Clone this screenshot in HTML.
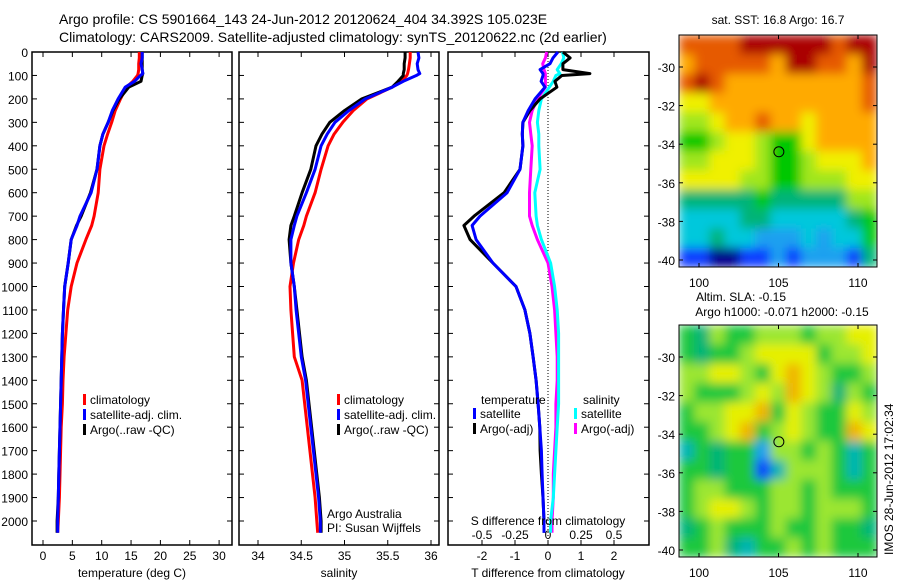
<!DOCTYPE html>
<html><head><meta charset="utf-8"><style>
body{margin:0;background:#fff}
svg{display:block;font-family:"Liberation Sans",sans-serif}
text{fill:#000}
</style></head><body>
<svg id="fig" width="900" height="580" viewBox="0 0 900 580">
<defs>
<filter id="soft" x="0" y="0" width="1" height="1"><feGaussianBlur stdDeviation="5" edgeMode="duplicate"/></filter>
<clipPath id="clip1"><rect x="679" y="35" width="198" height="232"/></clipPath>
<clipPath id="clip2"><rect x="679" y="325" width="198" height="232"/></clipPath>
</defs>
<rect width="900" height="580" fill="#fff"/>
<text x="59" y="24" font-size="14">Argo profile: CS 5901664_143 24-Jun-2012 20120624_404 34.392S 105.023E</text>
<text x="59" y="42" font-size="14">Climatology: CARS2009. Satellite-adjusted climatology: synTS_20120622.nc (2d earlier)</text>
<g id="g"></g>
</svg>
<script>
// ---- data ----
const depths=[0,25,50,75,92,100,125,150,200,250,300,350,400,500,600,700,740,800,900,1000,1100,1200,1300,1400,1500,1600,1700,1800,1900,2000,2050];
const tempClim=[16.4,16.4,16.3,16.3,16.2,16.1,15.3,14.2,13.2,12.3,11.7,11.0,10.4,9.7,9.4,8.7,8.3,7.3,5.8,4.8,4.2,3.9,3.6,3.4,3.3,3.1,3.0,2.9,2.8,2.6,2.5];
const tempSat=[16.9,16.9,16.7,16.9,17.0,16.6,15.6,14.0,12.8,11.8,11.1,10.2,9.7,9.2,8.2,6.3,5.8,4.8,4.3,3.7,3.5,3.3,3.2,3.1,3.0,2.9,2.8,2.7,2.6,2.5,2.5];
const tempArgo=[16.9,16.9,16.9,16.9,17.0,16.9,16.7,14.6,13.0,11.9,11.1,10.2,9.7,9.2,8.1,6.5,5.7,4.8,4.3,3.7,3.5,3.3,3.2,3.1,3.0,2.9,2.8,2.7,2.6,2.4,2.4];
const salClim=[35.76,35.76,35.75,35.74,35.73,35.72,35.66,35.55,35.26,35.10,34.98,34.88,34.81,34.73,34.66,34.56,34.53,34.47,34.41,34.37,34.38,34.40,34.42,34.51,34.54,34.57,34.60,34.63,34.66,34.68,34.69];
const salSat=[35.85,35.86,35.84,35.85,35.87,35.83,35.68,35.55,35.24,35.05,34.89,34.80,34.73,34.66,34.56,34.45,34.42,34.38,34.38,34.42,34.44,34.47,34.50,34.55,34.58,34.61,34.64,34.67,34.70,34.72,34.72];
const salArgo=[35.70,35.70,35.69,35.69,35.68,35.68,35.62,35.55,35.20,35.00,34.83,34.74,34.67,34.61,34.51,34.42,34.38,34.36,34.38,34.42,34.45,34.48,34.51,34.56,34.59,34.62,34.65,34.68,34.71,34.73,34.73];
const dTArgo=[0.45,0.67,0.45,0.45,1.27,0.42,0.21,0.27,-0.24,-0.55,-0.76,-0.78,-0.76,-0.85,-1.33,-2.24,-2.55,-2.36,-1.67,-0.97,-0.70,-0.55,-0.45,-0.36,-0.30,-0.25,-0.24,-0.20,-0.15,-0.12,-0.12];
const dTSat=[0.30,0.15,0.06,-0.24,-0.15,-0.15,-0.21,-0.09,-0.39,-0.60,-0.76,-0.78,-0.76,-0.85,-1.24,-2.06,-2.30,-2.18,-1.67,-0.97,-0.70,-0.55,-0.45,-0.36,-0.30,-0.25,-0.20,-0.18,-0.15,-0.12,-0.12];
const dSArgo=[-0.01,-0.02,-0.04,-0.03,-0.02,-0.02,-0.02,-0.02,-0.08,-0.12,-0.14,-0.13,-0.12,-0.13,-0.14,-0.14,-0.12,-0.08,0.00,0.03,0.05,0.06,0.07,0.07,0.06,0.06,0.05,0.04,0.04,0.03,0.03];
const dSSat=[0.11,0.12,0.10,0.07,0.09,0.06,0.04,0.01,-0.05,-0.07,-0.08,-0.07,-0.07,-0.06,-0.10,-0.09,-0.08,-0.05,0.02,0.05,0.07,0.08,0.08,0.08,0.08,0.07,0.06,0.05,0.04,0.02,0.02];
const depthTicks=[0,100,200,300,400,500,600,700,800,900,1000,1100,1200,1300,1400,1500,1600,1700,1800,1900,2000];
const tempTicks=[0,5,10,15,20,25,30];
const salTicks=[34,34.5,35,35.5,36];
const dTTicks=[-2,-1,0,1,2];
const dSTicks=[-0.5,-0.25,0,0.25,0.5];
const sstRows=["9999AAAAAA9AA","8999998AA998A","9A98888888889","7788888888889","6678898878888","5567765578888","6677765567778","7777665566677","4444454444466","3333443333345","3343322232335","1100112122214"];
const slaRows=["4354455545566","4344566664556","5566546765445","5444565765354","4556674654465","4456745654476","2434415545424","4434402555424","4554445545444","4566545545554","3454445445443","4453244545444"];
const latTicks=[-30,-32,-34,-36,-38,-40];
const lonTicks=[100,105,110];

// ---- helpers ----
const NS="http://www.w3.org/2000/svg";const G=document.getElementById('g');
function mk(t,a,p){const e=document.createElementNS(NS,t);for(const k in a)e.setAttribute(k,a[k]);(p||G).appendChild(e);return e;}
function txt(x,y,s,anchor,size,name){const e=mk('text',{x:x,y:y,'font-size':size||12,'text-anchor':anchor||'start'});e.textContent=s;


return e;}
const yD=d=>52+0.2345*d;
function panel(x0,x1,name){const r=mk('rect',{x:x0,y:52,width:x1-x0,height:493,fill:'none',stroke:'#000','stroke-width':1.5});


depthTicks.forEach(d=>{const y=yD(d);mk('line',{x1:x0,x2:x0+5,y1:y,y2:y,stroke:'#000'});mk('line',{x1:x1-5,x2:x1,y1:y,y2:y,stroke:'#000'});});}
function xticks(x0,ticks,fx,labels,ly,name){ticks.forEach(t=>{const x=fx(t);mk('line',{x1:x,x2:x,y1:52,y2:57,stroke:'#000'});mk('line',{x1:x,x2:x,y1:540,y2:545,stroke:'#000'});if(labels)txt(x,ly,String(t),'middle',12,name);});}
function line(xs,ys,fx,col,name){const pts=xs.map((v,i)=>fx(v).toFixed(1)+','+yD(ys[i]).toFixed(1)).join(' ');const p=mk('polyline',{points:pts,fill:'none',stroke:col,'stroke-width':3,'stroke-linejoin':'round'});

}
function legend(x,y,items,pref){items.forEach((it,i)=>{mk('rect',{x:x,y:y+i*15-10,width:3,height:11,fill:it[1]});txt(x+7,y+i*15,it[0],'start',12,pref+'-legend-entry');});}

// panel 1 temperature
const fT=t=>43+5.87*t;
panel(32,232,'temperature-panel');
depthTicks.forEach(d=>txt(28,yD(d)+5,String(d),'end',12,'depth-tick-label'));
xticks(32,tempTicks,fT,true,560,'temperature-tick-label');
line(tempClim,depths,fT,'#f00','temp-climatology-line');
line(tempArgo,depths,fT,'#000','temp-argo-line');
line(tempSat,depths,fT,'#00f','temp-satellite-line');
legend(83,404,[['climatology','#f00'],['satellite-adj. clim.','#00f'],['Argo(..raw -QC)','#000']],'temp');
txt(132,577,'temperature (deg C)','middle',12,'x-axis-title-temperature');

// panel 2 salinity
const fS=s=>258+86.5*(s-34);
panel(239,439,'salinity-panel');
xticks(239,salTicks,fS,true,560,'salinity-tick-label');
line(salClim,depths,fS,'#f00','sal-climatology-line');
line(salArgo,depths,fS,'#000','sal-argo-line');
line(salSat,depths,fS,'#00f','sal-satellite-line');
legend(337,404,[['climatology','#f00'],['satellite-adj. clim.','#00f'],['Argo(..raw -QC)','#000']],'sal');
txt(327,518,'Argo Australia','start',12,'argo-australia-label');
txt(327,532,'PI: Susan Wijffels','start',12,'pi-label');
txt(339,577,'salinity','middle',12,'x-axis-title-salinity');

// panel 3 differences
const fdT=t=>548+33*t, fdS=s=>548+132*s;
panel(448,649,'difference-panel');
mk('line',{x1:548,x2:548,y1:52,y2:545,stroke:'#000','stroke-dasharray':'1,2'});
xticks(448,dTTicks,fdT,true,560,'t-diff-tick-label');
dSTicks.forEach(t=>txt(fdS(t),539,String(t),'middle',12,'s-diff-tick-label'));
line(dSArgo,depths,fdS,'#f0f','s-diff-argo-line');
line(dSSat,depths,fdS,'#0ff','s-diff-satellite-line');
line(dTArgo,depths,fdT,'#000','t-diff-argo-line');
line(dTSat,depths,fdT,'#00f','t-diff-satellite-line');
txt(481,404,'temperature','start',12,'temperature-legend-title');
legend(473,418,[['satellite','#00f'],['Argo(-adj)','#000']],'tdiff');
txt(583,404,'salinity','start',12,'salinity-legend-title');
legend(574,418,[['satellite','#0ff'],['Argo(-adj)','#f0f']],'sdiff');
txt(548,525,'S difference from climatology','middle',12,'s-diff-axis-title');
txt(548,577,'T difference from climatology','middle',12,'x-axis-title-t-diff');

// maps
const jet={'0':'#00008c','1':'#0a3cff','2':'#1ea0f0','3':'#00c8dc','4':'#00b478','5':'#00c800','6':'#a0e61e','7':'#f0f000','8':'#ffaa00','9':'#e65a00','A':'#aa0000'};
const sla={'0':'#0a3cff','1':'#1ea0f0','2':'#00b4b4','3':'#00b478','4':'#1ec83c','5':'#9be632','6':'#e6f000','7':'#f0b400'};
function map(top,rows,cmap,name,clip){
  const x0=679,x1=877,h=232,y0=top;
  const cw=(x1-x0)/rows[0].length,ch=h/rows.length;
  const outer=mk('g',{'clip-path':'url(#'+clip+')'});
  const gm=mk('g',{filter:'url(#soft)'},outer);
  
  
  rows.forEach((r,i)=>{[...r].forEach((c,j)=>{mk('rect',{x:(x0+j*cw).toFixed(2),y:(y0+i*ch).toFixed(2),width:(cw+0.5).toFixed(2),height:(ch+0.5).toFixed(2),fill:cmap[c]},gm);});});
  mk('rect',{x:x0,y:y0,width:x1-x0,height:h,fill:'none',stroke:'#000','stroke-width':1});
  const fy=l=>y0+32+(-30-l)*19.3, fx=l=>699+15.9*(l-100);
  latTicks.forEach(l=>{const y=fy(l);mk('line',{x1:x0,x2:x0+4,y1:y,y2:y,stroke:'#000'});mk('line',{x1:x1-4,x2:x1,y1:y,y2:y,stroke:'#000'});txt(x0-4,y+5,String(l),'end',12,'lat-tick-label');});
  lonTicks.forEach(l=>{const x=fx(l);mk('line',{x1:x,x2:x,y1:y0,y2:y0+4,stroke:'#000'});mk('line',{x1:x,x2:x,y1:y0+h-4,y2:y0+h,stroke:'#000'});txt(x,y0+h+20,String(l),'middle',12,'lon-tick-label');});
  const c=mk('circle',{cx:fx(105.023),cy:fy(-34.392),r:5,fill:'none',stroke:'#000','stroke-width':1});
  
  
}
txt(778,24,'sat. SST: 16.8 Argo: 16.7','middle',12,'sst-map-title');
map(35,sstRows,jet,'sst-map','clip1');
txt(741,301,'Altim. SLA: -0.15','middle',12,'sla-map-title');
txt(782,316,'Argo h1000: -0.071 h2000: -0.15','middle',12,'sla-map-subtitle');
map(325,slaRows,sla,'sla-map','clip2');
const r=txt(0,0,'IMOS 28-Jun-2012 17:02:34','start',12,'imos-timestamp');
r.setAttribute('transform','translate(893,555) rotate(-90)');
</script>
</body></html>
